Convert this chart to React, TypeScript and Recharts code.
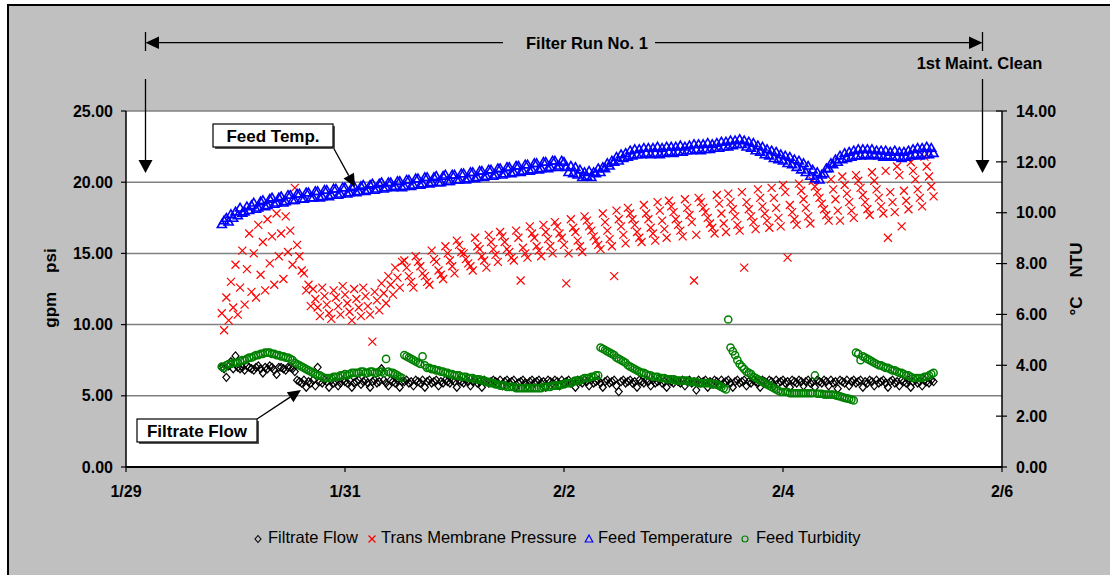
import React from 'react';
import { ScatterChart, Scatter, XAxis, YAxis, CartesianGrid } from 'recharts';

// Sampling: one reading every half hour, starting 21:00 on 1/29 (hours counted from 1/29 00:00)
const START_HOUR = 21;
const STEP_HOURS = 0.5;

const dateTicks = [0, 2, 4, 6, 8];
const dateLabels = ['1/29', '1/31', '2/2', '2/4', '2/6'];
const leftTicks = [0, 5, 10, 15, 20, 25];
const rightTicks = [0, 2, 4, 6, 8, 10, 12, 14];

// gpm (left axis)
const filtrateFlow = [
  7.0, 6.9, 6.3, 7.1, 7.4, 6.9, 7.8, 7.0, 6.9, 7.0, 6.8, 7.1, 7.0, 6.9, 6.8, 7.0, 7.1, 6.9, 6.6, 7.0,
  6.9, 7.1, 7.0, 6.8, 6.5, 7.0, 7.0, 6.9, 6.8, 7.0, 7.0, 6.9, 6.7, 6.1, 6.0, 5.9, 6.1, 5.6, 6.0, 5.9,
  6.1, 5.7, 7.0, 6.0, 5.9, 6.1, 6.0, 5.6, 6.1, 5.9, 6.0, 5.7, 5.9, 6.1, 6.0, 5.9, 6.1, 5.6, 5.9, 6.0,
  6.1, 5.8, 6.0, 6.1, 5.9, 5.6, 6.0, 6.1, 5.9, 6.0, 6.9, 6.1, 5.9, 5.7, 6.1, 6.0, 5.9, 6.1, 5.6, 6.0,
  6.0, 6.1, 5.9, 6.0, 5.7, 6.1, 6.0, 5.9, 6.1, 5.6, 6.0, 6.1, 5.9, 6.0, 6.1, 5.7, 6.0, 5.9, 6.1, 6.0,
  5.9, 6.1, 6.0, 5.6, 6.1, 6.0, 5.9, 6.1, 6.0, 5.7, 6.0, 6.1, 5.9, 6.0, 5.6, 6.1, 6.0, 5.9, 6.0, 6.1,
  6.0, 5.9, 6.1, 5.7, 6.0, 6.1, 5.9, 6.0, 6.1, 5.6, 5.9, 6.0, 6.1, 5.9, 5.7, 6.0, 6.1, 5.9, 6.0, 6.1,
  5.9, 6.0, 5.6, 6.1, 6.0, 5.9, 6.1, 6.0, 5.7, 6.1, 5.9, 6.0, 6.1, 5.9, 6.0, 5.6, 6.1, 6.0, 5.9, 6.1,
  6.0, 5.7, 6.1, 5.9, 6.0, 6.1, 5.9, 5.6, 6.0, 6.1, 5.9, 6.0, 6.1, 5.7, 5.3, 6.0, 6.1, 5.9, 6.0, 6.1,
  5.9, 6.0, 5.6, 6.1, 6.0, 5.9, 6.1, 6.0, 5.7, 6.1, 5.9, 6.0, 6.1, 5.9, 6.0, 5.6, 6.1, 6.0, 5.9, 6.1,
  6.0, 5.9, 6.1, 5.7, 6.0, 6.1, 5.9, 6.0, 5.4, 6.1, 5.9, 6.0, 6.1, 5.6, 6.0, 5.9, 6.1, 6.0, 5.7, 6.1,
  5.9, 6.0, 6.1, 5.9, 5.6, 6.0, 6.1, 5.9, 6.0, 6.1, 5.7, 6.0, 5.9, 6.1, 6.0, 5.9, 5.6, 6.1, 6.0, 5.9,
  6.1, 6.0, 5.7, 6.1, 5.9, 6.0, 6.1, 5.9, 6.0, 5.6, 6.1, 6.0, 5.9, 6.1, 6.0, 5.7, 6.0, 6.1, 5.9, 6.0,
  5.6, 6.1, 6.0, 5.9, 6.1, 6.0, 5.7, 6.1, 5.9, 6.0, 5.5, 6.1, 6.0, 5.9, 6.1, 5.7, 6.0, 6.1, 5.9, 6.0,
  6.1, 5.6, 6.0, 5.9, 6.1, 6.0, 5.7, 6.1, 5.9, 6.0, 6.1, 5.9, 5.6, 6.0, 6.1, 5.9, 6.0, 5.7, 6.1, 6.0,
  5.9, 6.1, 5.6, 6.0, 6.1, 5.9, 6.0, 5.7, 6.1, 6.0, 5.9, 6.1, 6.0,
];

// psi (left axis)
const transMembranePressure = [
  10.8, 9.6, 11.9, 10.3, 13.0, 11.2, 14.2, 10.7, 12.6, 15.2, 11.4, 13.9, 16.4, 12.3, 15.0, 11.9, 17.0, 13.5, 15.8, 12.4,
  17.4, 14.3, 16.2, 12.8, 17.8, 14.8, 16.4, 13.2, 17.6, 15.1, 16.6, 14.2, 19.6, 15.6, 14.8, 13.8, 13.6, 12.4, 12.8, 11.3,
  12.5, 11.8, 11.2, 10.6, 12.6, 12.0, 11.4, 10.8, 10.4, 12.4, 11.9, 11.3, 10.7, 12.7, 12.1, 11.5, 10.9, 10.3, 12.5, 11.8,
  11.2, 10.6, 12.6, 12.0, 11.3, 10.7, 8.8, 12.3, 11.7, 11.0,
  12.9, 12.2, 11.5, 13.4, 12.8, 12.1, 14.0, 13.3, 12.6, 14.4,
  14.5, 14.0, 13.4, 13.0, 12.6,
  14.8, 14.4, 14.1, 13.6, 13.4, 13.0, 12.8,
  15.2, 14.6, 14.4, 13.8, 13.5, 13.2,
  15.5, 15.0, 14.5, 14.1, 13.6,
  15.9, 15.6, 15.1, 15.0, 14.6, 14.3, 14.1, 13.8,
  16.1, 15.5, 15.3, 14.8, 14.5, 14.0,
  16.3, 15.8, 15.3, 14.9, 14.4,
  16.5, 16.2, 15.8, 15.3, 15.1, 14.7, 14.5,
  16.6, 16.1, 13.1, 15.4, 15.0, 14.7,
  16.9, 16.4, 16.1, 15.5, 15.2, 14.8,
  17.0, 16.5, 16.0, 15.5, 15.0,
  17.2, 16.9, 16.4, 16.1, 15.6, 12.9, 15.0,
  17.4, 16.8, 16.5, 15.9, 15.5, 15.1,
  17.6, 17.3, 16.9, 16.6, 16.2, 15.9, 15.6, 15.3,
  17.8, 17.2, 16.6, 16.0, 15.5,
  13.4, 18.0, 17.4, 16.9, 16.3, 15.7,
  18.2, 17.8, 17.4, 17.0, 16.5, 16.1, 15.8,
  18.4, 17.8, 17.4, 16.8, 16.4, 15.9,
  18.6, 18.0, 17.3, 16.7, 16.1,
  18.7, 18.3, 17.9, 17.4, 17.0, 16.6, 16.2,
  18.8, 18.2, 17.7, 17.2, 13.1, 16.3,
  18.9, 18.6, 18.2, 17.9, 17.5, 17.1, 16.8, 16.4,
  19.1, 18.5, 17.8, 17.1, 16.5,
  19.2, 18.6, 18.1, 17.6, 17.0, 16.6,
  19.3, 14.0, 18.6, 18.1, 17.6, 17.2, 16.7,
  19.5, 18.9, 18.3, 17.8, 17.3, 16.8,
  19.6, 18.9, 18.2, 17.5, 16.9,
  19.8, 19.3, 14.7, 18.4, 17.9, 17.4, 17.0,
  19.9, 19.4, 18.8, 18.2, 17.6, 17.1,
  20.1, 19.7, 19.3, 18.9, 18.5, 18.1, 17.7, 17.3,
  20.2, 19.5, 18.8, 18.0, 17.3,
  20.4, 19.8, 19.2, 18.6, 18.0, 17.5,
  20.5, 20.1, 19.6, 19.1, 18.6, 18.1, 17.7,
  20.7, 20.1, 19.5, 18.9, 18.3, 17.8,
  20.8, 16.1, 19.3, 18.6, 17.9,
  21.1, 20.5, 16.9, 19.4, 18.7, 18.1,
  21.4, 20.8, 20.2, 19.5, 18.9, 18.3,
  21.8, 21.1, 20.4, 19.7, 19.0,
];

// °C (right axis)
const feedTemperature = [
  9.55, 9.7, 9.8, 9.65, 9.95, 9.8, 10.05, 9.9, 10.2, 10.0, 10.05, 10.25, 10.1, 10.3, 10.4, 10.15, 10.2, 10.45, 10.5, 10.25,
  10.3, 10.55, 10.6, 10.35, 10.4, 10.6, 10.65, 10.4, 10.45, 10.7, 10.7, 10.5, 10.5, 10.75, 10.75, 10.55, 10.55, 10.8, 10.8, 10.6,
  10.6, 10.85, 10.85, 10.6, 10.65, 10.9, 10.9, 10.65, 10.7, 10.95, 10.95, 10.7, 10.75, 11.0, 11.0, 10.75, 10.8, 11.0, 11.05, 10.8,
  10.85, 11.05, 11.1, 10.85, 10.9, 11.1, 11.15, 10.9, 10.95, 11.15, 11.2, 10.95, 11.0, 11.2, 11.2, 11.0, 11.05, 11.25, 11.25, 11.0,
  11.05, 11.3, 11.3, 11.05, 11.1, 11.35, 11.35, 11.1, 11.15, 11.4, 11.4, 11.15, 11.2, 11.4, 11.45, 11.2, 11.2, 11.45, 11.5, 11.25,
  11.25, 11.5, 11.5, 11.3, 11.3, 11.55, 11.55, 11.3, 11.35, 11.6, 11.6, 11.35, 11.4, 11.65, 11.65, 11.4, 11.45, 11.7, 11.7, 11.45,
  11.5, 11.75, 11.75, 11.5, 11.55, 11.8, 11.8, 11.55, 11.6, 11.85, 11.85, 11.6, 11.65, 11.9, 11.9, 11.65, 11.7, 11.95, 11.95, 11.7,
  11.75, 12.0, 12.0, 11.75, 11.8, 12.05, 12.05, 11.8, 11.85, 12.05, 12.0, 11.8, 11.6, 11.85, 11.55, 11.8, 11.5, 11.7, 11.4, 11.6,
  11.45, 11.65, 11.4, 11.6, 11.55, 11.75, 11.6, 11.8, 11.75, 11.95, 11.85, 12.05, 12.0, 12.2, 12.05, 12.3, 12.15, 12.35, 12.2, 12.45,
  12.25, 12.5, 12.3, 12.5, 12.3, 12.55, 12.35, 12.55, 12.3, 12.55, 12.35, 12.6, 12.3, 12.55, 12.35, 12.6, 12.4, 12.6, 12.35, 12.6,
  12.4, 12.65, 12.4, 12.6, 12.45, 12.65, 12.45, 12.7, 12.5, 12.7, 12.45, 12.7, 12.5, 12.75, 12.5, 12.7, 12.55, 12.75, 12.55, 12.8,
  12.6, 12.8, 12.6, 12.85, 12.65, 12.85, 12.7, 12.9, 12.7, 12.85, 12.6, 12.8, 12.55, 12.75, 12.45, 12.65, 12.4, 12.6, 12.3, 12.5,
  12.25, 12.45, 12.15, 12.4, 12.1, 12.3, 12.05, 12.25, 11.95, 12.2, 11.9, 12.1, 11.8, 12.05, 11.7, 11.95, 11.6, 11.85, 11.45, 11.7,
  11.35, 11.6, 11.3, 11.5, 11.55, 11.75, 11.75, 11.95, 11.9, 12.1, 12.0, 12.25, 12.1, 12.35, 12.15, 12.4, 12.2, 12.45, 12.25, 12.5,
  12.25, 12.5, 12.3, 12.5, 12.25, 12.5, 12.3, 12.45, 12.25, 12.45, 12.2, 12.45, 12.25, 12.4, 12.2, 12.45, 12.2, 12.4, 12.15, 12.4,
  12.2, 12.45, 12.25, 12.5, 12.3, 12.55, 12.25, 12.55, 12.3, 12.6, 12.3, 12.55, 12.35,
];

// NTU (right axis)
const feedTurbidity = [
  3.95, 3.9, 4.0, 4.05, 4.05, 4.1, 4.1, 4.1, 4.15, 4.2, 4.2, 4.25, 4.3, 4.3, 4.35, 4.4, 4.4, 4.45, 4.45, 4.5,
  4.5, 4.5, 4.45, 4.45, 4.4, 4.4, 4.35, 4.35, 4.3, 4.3, 4.25, 4.2, 4.1, 4.05, 4.0, 3.95, 3.9, 3.85, 3.8, 3.75,
  3.7, 3.65, 3.6, 3.6, 3.55, 3.5, 3.5, 3.5, 3.5, 3.55, 3.55, 3.55, 3.6, 3.6, 3.65, 3.6, 3.65, 3.7, 3.7, 3.7,
  3.7, 3.75, 3.75, 3.7, 3.7, 3.75, 3.75, 3.7, 3.7, 3.75, 3.75, 3.7, 4.25, 3.75, 3.7, 3.7, 3.65, 3.6, 3.55, 3.5,
  4.4, 4.35, 4.3, 4.25, 4.2, 4.15, 4.1, 4.05, 4.35, 4.0, 3.9, 3.9, 3.85, 3.85, 3.8, 3.8, 3.75, 3.75, 3.7, 3.7,
  3.65, 3.65, 3.6, 3.6, 3.6, 3.55, 3.55, 3.55, 3.5, 3.5, 3.5, 3.45, 3.45, 3.45, 3.4, 3.4, 3.35, 3.35, 3.3, 3.3,
  3.25, 3.25, 3.2, 3.2, 3.2, 3.15, 3.15, 3.15, 3.15, 3.1, 3.1, 3.1, 3.1, 3.1, 3.1, 3.1, 3.1, 3.1, 3.1, 3.1,
  3.1, 3.15, 3.15, 3.15, 3.15, 3.2, 3.2, 3.2, 3.2, 3.25, 3.25, 3.3, 3.3, 3.3, 3.35, 3.4, 3.4, 3.4, 3.45, 3.5,
  3.5, 3.5, 3.55, 3.55, 3.6, 3.6, 4.7, 4.65, 4.6, 4.55, 4.5, 4.45, 4.4, 4.3, 4.25, 4.2, 4.15, 4.1, 4.0, 3.95,
  3.9, 3.85, 3.8, 3.75, 3.7, 3.7, 3.65, 3.6, 3.6, 3.55, 3.55, 3.55, 3.5, 3.5, 3.5, 3.45, 3.45, 3.45, 3.45, 3.4,
  3.4, 3.4, 3.4, 3.4, 3.4, 3.35, 3.35, 3.35, 3.35, 3.3, 3.3, 3.3, 3.3, 3.3, 3.3, 3.25, 3.25, 3.25, 3.2, 3.15,
  3.1, 3.05, 5.8, 4.7, 4.55, 4.4, 4.2, 4.05, 3.95, 3.85, 3.75, 3.7, 3.65, 3.55, 3.5, 3.45, 3.4, 3.35, 3.3, 3.25,
  3.2, 3.15, 3.1, 3.05, 3.0, 2.95, 2.95, 2.95, 2.95, 2.9, 2.9, 2.9, 2.9, 2.9, 2.9, 2.9, 2.9, 2.9, 2.9, 2.9,
  3.6, 2.88, 2.88, 2.88, 2.85, 2.85, 2.85, 2.85, 2.85, 2.82, 2.8, 2.78, 2.75, 2.72, 2.7, 2.68, 2.65, 2.62, 4.5, 4.45,
  4.2, 4.35, 4.3, 4.25, 4.2, 4.15, 4.1, 4.05, 4.0, 4.0, 3.95, 3.9, 3.9, 3.85, 3.8, 3.8, 3.75, 3.7, 3.7, 3.65,
  3.6, 3.6, 3.55, 3.5, 3.5, 3.5, 3.5, 3.5, 3.55, 3.55, 3.6, 3.65, 3.7,
];

const FONT = '"Liberation Sans", Arial, Helvetica, sans-serif';

const toPoints = (vals: number[]) => vals.map((v, i) => ({ t: (START_HOUR + i * STEP_HOURS) / 24, v }));

const flowData = toPoints(filtrateFlow);
const tmpData = toPoints(transMembranePressure);
const tempData = toPoints(feedTemperature);
const turbData = toPoints(feedTurbidity);

const ok = (p: any) => typeof p.cx === 'number' && typeof p.cy === 'number';

const DiamondShape = (p: any) =>
  ok(p) ? (
    <path
      d={`M${p.cx},${p.cy - 4}L${p.cx + 3.5},${p.cy}L${p.cx},${p.cy + 4}L${p.cx - 3.5},${p.cy}Z`}
      fill="none"
      stroke="#000"
      strokeWidth={1.2}
    />
  ) : null;

const CrossShape = (p: any) =>
  ok(p) ? (
    <path
      d={`M${p.cx - 4},${p.cy - 4}L${p.cx + 4},${p.cy + 4}M${p.cx - 4},${p.cy + 4}L${p.cx + 4},${p.cy - 4}`}
      fill="none"
      stroke="#FF0000"
      strokeWidth={1.2}
    />
  ) : null;

const TriangleShape = (p: any) =>
  ok(p) ? (
    <path
      d={`M${p.cx},${p.cy - 4.2}L${p.cx + 4.5},${p.cy + 3.4}L${p.cx - 4.5},${p.cy + 3.4}Z`}
      fill="none"
      stroke="#0000FF"
      strokeWidth={1.6}
    />
  ) : null;

const CircleShape = (p: any) =>
  ok(p) ? <circle cx={p.cx} cy={p.cy} r={3.6} fill="none" stroke="#008000" strokeWidth={1.5} /> : null;

const RightTick = (props: any) => {
  const { x, y, payload } = props;
  const ax = x - 14;
  return (
    <g>
      <line x1={ax - 6} x2={ax + 5} y1={y} y2={y} stroke="#000" strokeWidth={1.2} />
      <text x={x} y={y} dy="0.355em" textAnchor="start" fontSize={16} fontWeight="bold" fill="#000" fontFamily={FONT}>
        {Number(payload.value).toFixed(2)}
      </text>
    </g>
  );
};

const arrowHead = (x1: number, y1: number, x2: number, y2: number, len: number, half: number) => {
  const dx = x2 - x1;
  const dy = y2 - y1;
  const L = Math.sqrt(dx * dx + dy * dy);
  const ux = dx / L;
  const uy = dy / L;
  const bx = x2 - ux * len;
  const by = y2 - uy * len;
  const px = -uy * half;
  const py = ux * half;
  return {
    base: [bx, by],
    points: `${x2},${y2} ${bx + px},${by + py} ${bx - px},${by - py}`,
  };
};

const Callout = ({ x, y, w, h, label, from, to }: any) => {
  const a = arrowHead(from[0], from[1], to[0], to[1], 13, 6);
  return (
    <g>
      <line x1={from[0]} y1={from[1]} x2={a.base[0]} y2={a.base[1]} stroke="#000" strokeWidth={1.3} />
      <polygon points={a.points} fill="#000" />
      <rect x={x + 2} y={y + 2} width={w} height={h} fill="#555" />
      <rect x={x} y={y} width={w} height={h} fill="#fff" stroke="#000" strokeWidth={1.2} />
      <text x={x + w / 2} y={y + h / 2} dy="0.36em" textAnchor="middle" fontSize={17} fontWeight="bold" fill="#000">
        {label}
      </text>
    </g>
  );
};

const legendItems = [
  { name: 'Filtrate Flow', sx: 258, tx: 268, kind: 'diamond' },
  { name: 'Trans Membrane Pressure', sx: 372, tx: 381, kind: 'cross' },
  { name: 'Feed Temperature', sx: 589, tx: 598, kind: 'triangle' },
  { name: 'Feed Turbidity', sx: 745, tx: 756, kind: 'circle' },
];

const LegendSymbol = ({ kind, x, y }: any) => {
  if (kind === 'diamond')
    return <path d={`M${x},${y - 3.5}L${x + 3},${y}L${x},${y + 3.5}L${x - 3},${y}Z`} fill="none" stroke="#000" strokeWidth={1.1} />;
  if (kind === 'cross')
    return <path d={`M${x - 3.5},${y - 3.5}L${x + 3.5},${y + 3.5}M${x - 3.5},${y + 3.5}L${x + 3.5},${y - 3.5}`} stroke="#FF0000" strokeWidth={1.3} />;
  if (kind === 'triangle')
    return <path d={`M${x},${y - 4}L${x + 3.8},${y + 3}L${x - 3.8},${y + 3}Z`} fill="none" stroke="#0000FF" strokeWidth={1.2} />;
  return <circle cx={x} cy={y} r={3} fill="none" stroke="#008000" strokeWidth={1.2} />;
};

export default function App() {
  const leftDim = arrowHead(300, 42.7, 145.5, 42.7, 13.5, 6.2);
  const rightDim = arrowHead(800, 42.7, 982.5, 42.7, 13.5, 6.2);
  const vLeft = arrowHead(145.5, 79, 145.5, 173, 13, 7);
  const vRight = arrowHead(982.5, 79, 982.5, 173, 13, 7);
  return (
    <div style={{ position: 'absolute', left: 0, top: 0, width: 1110, height: 575, background: '#fff', fontFamily: FONT }}>
      <div
        style={{
          position: 'absolute',
          left: 7,
          top: 4,
          width: 1103,
          height: 571,
          background: '#C0C0C0',
          borderTop: '2px solid #000',
          borderLeft: '2px solid #000',
          boxSizing: 'border-box',
        }}
      />
      <div style={{ position: 'absolute', left: 0, top: 0 }}>
        <ScatterChart width={1110} height={575} margin={{ top: 111, right: 8, bottom: 78, left: 6 }} style={{ fontFamily: FONT }}>
          <CartesianGrid yAxisId="L" vertical={false} stroke="#808080" strokeWidth={1.5} fill="#FFFFFF" fillOpacity={1} />
          <XAxis
            type="number"
            dataKey="t"
            domain={[0, 8]}
            ticks={dateTicks}
            tickFormatter={(v: number) => dateLabels[dateTicks.indexOf(v)]}
            allowDataOverflow
            height={30}
            tickSize={5}
            tickMargin={14}
            axisLine={{ stroke: '#000', strokeWidth: 2 }}
            tickLine={{ stroke: '#000', strokeWidth: 1.2 }}
            tick={{ fill: '#000', fontSize: 16, fontWeight: 'bold' }}
          />
          <YAxis
            yAxisId="L"
            type="number"
            dataKey="v"
            domain={[0, 25]}
            ticks={leftTicks}
            tickFormatter={(v: number) => v.toFixed(2)}
            width={120}
            tickSize={5}
            tickMargin={8}
            axisLine={{ stroke: '#000', strokeWidth: 1.5 }}
            tickLine={{ stroke: '#000', strokeWidth: 1.2 }}
            tick={{ fill: '#000', fontSize: 16, fontWeight: 'bold' }}
          />
          <YAxis
            yAxisId="R"
            orientation="right"
            type="number"
            dataKey="v"
            domain={[0, 14]}
            ticks={rightTicks}
            width={100}
            tickSize={5}
            tickMargin={9}
            tickLine={false}
            axisLine={{ stroke: '#000', strokeWidth: 1.5 }}
            tick={<RightTick />}
          />
          <Scatter name="Filtrate Flow" data={flowData} yAxisId="L" shape={DiamondShape} isAnimationActive={false} />
          <Scatter name="Trans Membrane Pressure" data={tmpData} yAxisId="L" shape={CrossShape} isAnimationActive={false} />
          <Scatter name="Feed Temperature" data={tempData} yAxisId="R" shape={TriangleShape} isAnimationActive={false} />
          <Scatter name="Feed Turbidity" data={turbData} yAxisId="R" shape={CircleShape} isAnimationActive={false} />
        </ScatterChart>
      </div>
      <svg width={1110} height={575} style={{ position: 'absolute', left: 0, top: 0, pointerEvents: 'none', fontFamily: FONT }}>
        <line x1={145.5} y1={32} x2={145.5} y2={51} stroke="#000" strokeWidth={1.3} />
        <line x1={982.5} y1={32} x2={982.5} y2={51} stroke="#000" strokeWidth={1.3} />
        <line x1={leftDim.base[0]} y1={42.7} x2={503} y2={42.7} stroke="#000" strokeWidth={1.3} />
        <line x1={655} y1={42.7} x2={rightDim.base[0]} y2={42.7} stroke="#000" strokeWidth={1.3} />
        <polygon points={leftDim.points} fill="#000" />
        <polygon points={rightDim.points} fill="#000" />
        <text x={587} y={43} dy="0.36em" textAnchor="middle" fontSize={16.5} fontWeight="bold" fill="#000">
          Filter Run No. 1
        </text>
        <text x={979.5} y={63} dy="0.36em" textAnchor="middle" fontSize={16.5} fontWeight="bold" fill="#000">
          1st Maint. Clean
        </text>
        <line x1={145.5} y1={79} x2={145.5} y2={vLeft.base[1]} stroke="#000" strokeWidth={1.3} />
        <polygon points={vLeft.points} fill="#000" />
        <line x1={982.5} y1={79} x2={982.5} y2={vRight.base[1]} stroke="#000" strokeWidth={1.3} />
        <polygon points={vRight.points} fill="#000" />
        <Callout x={213} y={124} w={120} h={23} label="Feed Temp." from={[333, 147]} to={[355, 187]} />
        <Callout x={137} y={419} w={120} h={23} label="Filtrate Flow" from={[257, 419]} to={[301, 390]} />
        <text transform="translate(56,288) rotate(-90)" textAnchor="middle" fontSize={17} fontWeight="bold" fill="#000" style={{ whiteSpace: 'pre' }}>
          {'gpm    psi'}
        </text>
        <text transform="translate(1082,279) rotate(-90)" textAnchor="middle" fontSize={17} fontWeight="bold" fill="#000" style={{ whiteSpace: 'pre' }}>
          {'°C    NTU'}
        </text>
        {legendItems.map((it) => (
          <g key={it.name}>
            <LegendSymbol kind={it.kind} x={it.sx} y={539} />
            <text x={it.tx} y={543} fontSize={16.5} fill="#000">
              {it.name}
            </text>
          </g>
        ))}
      </svg>
    </div>
  );
}
